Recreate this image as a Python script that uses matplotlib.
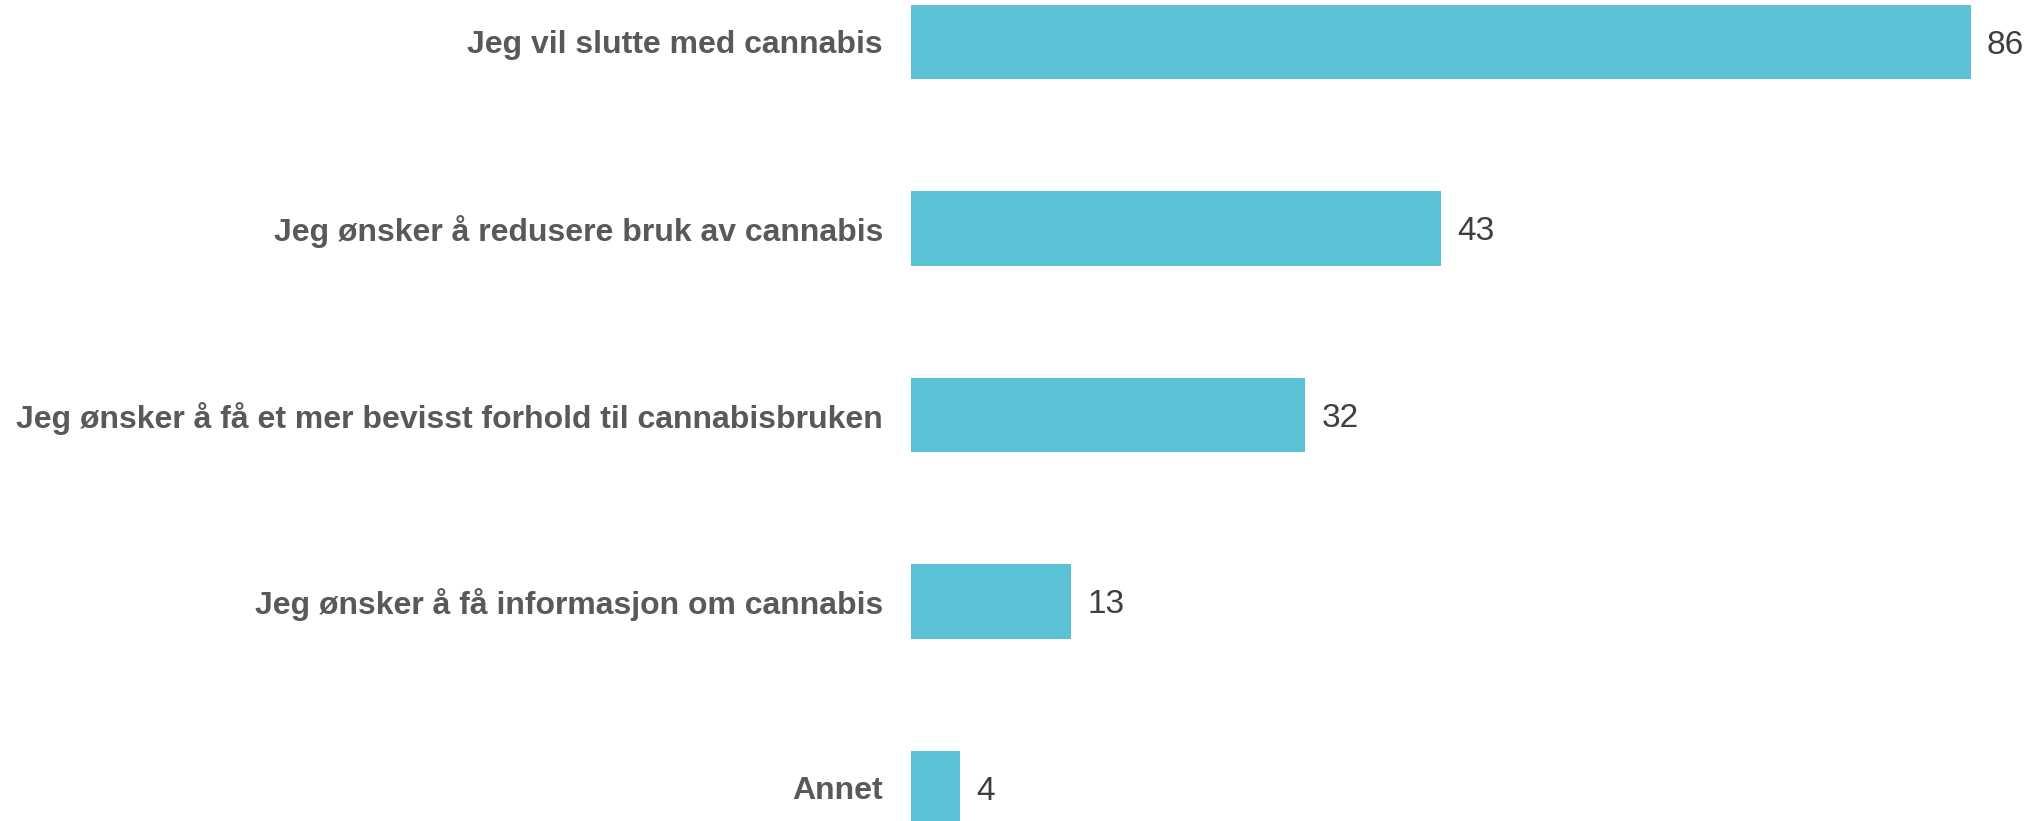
import matplotlib.pyplot as plt

plt.rcParams['font.family'] = ['Liberation Sans', 'DejaVu Sans']

categories = [
    'Jeg vil slutte med cannabis',
    'Jeg ønsker å redusere bruk av cannabis',
    'Jeg ønsker å få et mer bevisst forhold til cannabisbruken',
    'Jeg ønsker å få informasjon om cannabis',
    'Annet',
]
values = [86, 43, 32, 13, 4]

W, H = 2040, 821
fig = plt.figure(figsize=(W / 100, H / 100), dpi=100)
ax = fig.add_axes([911 / W, 0, 1 - 911 / W, 1])

pos = list(range(len(categories)))
ax.barh(pos, values, height=0.4, color='#5bc1d5')

px = 1060 / 86  # pixels per unit on x
py = 186.5      # pixels per category step
ax.set_xlim(0, (W - 911) / px)
ax.set_ylim(4 + 33 / py, -42 / py)

nudge = 3 / py  # digits sit a little low of the text box centre
for p, v, c in zip(pos, values, categories):
    ax.text(v + 16 / px, p + nudge, str(v), va='center', ha='left',
            fontsize=24, color='#3f3f3f')
    ax.text(-28 / px, p + nudge, c, va='center', ha='right', clip_on=False,
            fontsize=23, fontweight='bold', color='#595959')

ax.set_yticks([])
ax.set_xticks([])
for s in ax.spines.values():
    s.set_visible(False)

fig.savefig('out.png', dpi=100)
